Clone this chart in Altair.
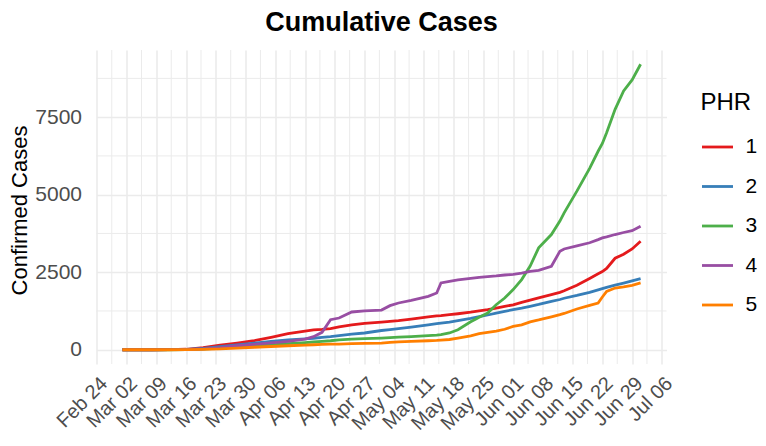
import altair as alt
import pandas as pd

dates = ["2020-03-01","2020-03-08","2020-03-12","2020-03-16","2020-03-20","2020-03-24","2020-03-28",
         "2020-04-01","2020-04-05","2020-04-09","2020-04-13","2020-04-15","2020-04-17","2020-04-19","2020-04-21","2020-04-24","2020-04-27",
         "2020-05-01","2020-05-03","2020-05-05","2020-05-08","2020-05-12","2020-05-14","2020-05-15","2020-05-17","2020-05-19","2020-05-22","2020-05-24","2020-05-26","2020-05-28","2020-05-30",
         "2020-06-01","2020-06-03","2020-06-05","2020-06-07","2020-06-10","2020-06-12","2020-06-13","2020-06-16","2020-06-19","2020-06-21","2020-06-22","2020-06-23","2020-06-25","2020-06-27","2020-06-29",
         "2020-07-01"]

phr1 = [0,0,2,15,70,150,215,
        290,400,517,600,640,655,680,740,800,850,
        893,915,940,990,1060,1090,1100,1130,1160,1210,1250,1290,1340,1400,
        1450,1530,1600,1670,1780,1850,1900,2080,2300,2450,2520,2620,2950,3080,3250,
        3500]
phr2 = [0,0,1,8,40,100,160,
        210,270,320,350,370,400,420,455,500,540,
        620,650,680,730,800,840,860,890,940,1010,1070,1120,1180,1240,
        1290,1340,1400,1460,1560,1620,1660,1750,1850,1930,1970,2010,2080,2150,2220,
        2290]
phr3 = [0,0,0,3,20,50,86,
        120,160,194,230,250,270,290,320,345,360,
        377,390,405,425,452,470,490,540,646,900,1050,1184,1450,1668,
        1940,2261,2700,3284,3715,4150,4415,5114,5850,6400,6650,7000,7752,8343,8700,
        9205]
phr4 = [0,0,1,5,30,70,129,
        170,220,269,345,420,560,969,1023,1217,1250,
        1280,1421,1507,1593,1722,1830,2153,2207,2250,2300,2336,2360,2380,2410,
        2430,2470,2530,2560,2692,3175,3250,3350,3450,3550,3607,3640,3715,3780,3840,
        3983]
phr5 = [0,0,0,2,10,25,54,
        80,105,129,150,160,170,178,183,195,205,
        215,240,255,270,290,300,310,330,377,450,520,560,600,660,
        753,800,900,960,1060,1130,1170,1313,1430,1507,1700,1883,1991,2030,2077,
        2153]

regions = ["1", "2", "3", "4", "5"]
colors = ["#E41A1C", "#377EB8", "#4DAF4A", "#984EA3", "#FF7F00"]

x_ticks = pd.date_range("2020-02-24", "2020-07-06", freq="7D")
y_ticks = [0, 2500, 5000, 7500]
y_minor = [1250, 3750, 6250, 8750]

rows = []
for r, vals in zip(regions, [phr1, phr2, phr3, phr4, phr5]):
    for d, v in zip(dates, vals):
        rows.append({"date": d + "T00:00:00", "PHR": r, "cases": v})
df = pd.DataFrame(rows)

minor_x = pd.DataFrame({"date": [(t + pd.Timedelta(hours=84)).strftime("%Y-%m-%dT%H:%M:%S") for t in x_ticks[:-1]]})
minor_y = pd.DataFrame({"cases": y_minor})

def dt(t):
    return alt.DateTime(year=t.year, month=t.month, date=t.day)

x_dom = [alt.DateTime(year=2020, month=2, date=23, hours=21, minutes=36),
         alt.DateTime(year=2020, month=7, date=7, hours=2, minutes=24)]
xscale = alt.Scale(domain=x_dom, nice=False)
yscale = alt.Scale(domain=[-460, 9665], nice=False, zero=False)

FONT = "Liberation Sans"
GRID = "#EBEBEB"

xaxis = alt.Axis(values=[dt(t) for t in x_ticks], format="%b %d", labelAngle=315,
                 labelAlign="right", labelBaseline="top", labelFontSize=20,
                 labelFont=FONT, labelColor="#4D4D4D", labelPadding=9,
                 labelOverlap=False, labelFlush=False, grid=True, gridColor=GRID,
                 gridWidth=1.6, ticks=False, domain=False, title=None)
yaxis = alt.Axis(values=y_ticks, format="d", labelFontSize=21, labelFont=FONT, labelColor="#4D4D4D",
                 labelPadding=15, grid=True, gridColor=GRID, gridWidth=1.6,
                 ticks=False, domain=False, title="Confirmed Cases",
                 titleFont=FONT, titleFontSize=22, titleFontWeight="normal",
                 titleColor="black", titleX=-77, titleY=160,
                 titleAlign="center", titleBaseline="middle", titleAngle=270)

vminor = alt.Chart(minor_x).mark_rule(color=GRID, strokeWidth=1.0).encode(
    x=alt.X("date:T", scale=xscale, axis=xaxis)
)
hminor = alt.Chart(minor_y).mark_rule(color=GRID, strokeWidth=1.0).encode(
    y=alt.Y("cases:Q", scale=yscale, axis=yaxis)
)

lines = alt.Chart(df).mark_line(strokeWidth=2.8).encode(
    x=alt.X("date:T", scale=xscale, axis=xaxis),
    y=alt.Y("cases:Q", scale=yscale, axis=yaxis),
    color=alt.Color("PHR:N", scale=alt.Scale(domain=regions, range=colors),
                    legend=alt.Legend(title="PHR", orient="none", legendX=604, legendY=41,
                                      titleFont=FONT, titleFontSize=24, titleFontWeight="normal",
                                      titleColor="black", titlePadding=15,
                                      labelFont=FONT, labelFontSize=21, labelColor="black",
                                      labelOffset=11, symbolType="stroke", symbolSize=961,
                                      symbolStrokeWidth=2.8, rowPadding=12.5)),
)

chart = alt.layer(vminor, hminor, lines).properties(
    width=570, height=314,
    title=alt.Title("Cumulative Cases", font=FONT, fontSize=27, fontWeight="bold",
                    color="black", anchor="middle", offset=13),
    autosize=alt.AutoSizeParams(type="none"),
    padding={"left": 88.5, "top": 42, "right": 91.5, "bottom": 74},
).configure_view(stroke=None)

chart.save("out.html", embed_options={"renderer": "svg", "actions": False})
